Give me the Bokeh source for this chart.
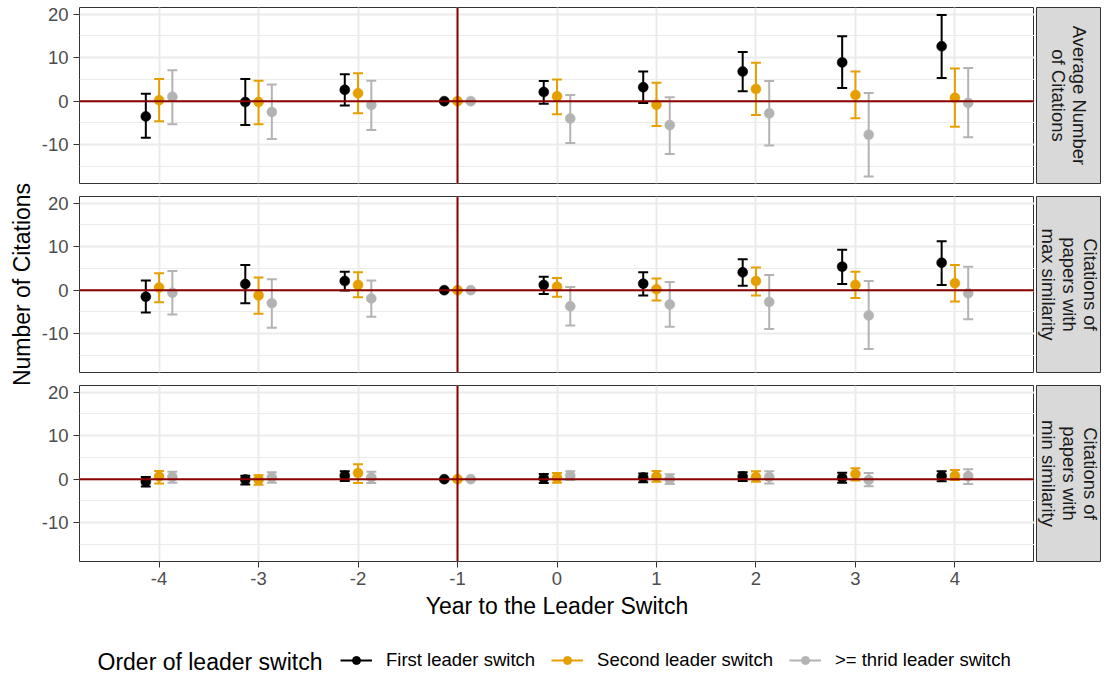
import math
from bokeh.plotting import figure
from bokeh.models import (Range1d, FixedTicker, Grid, Span, Legend, LegendItem,
                          ColumnDataSource, CustomJSTickFormatter)
from bokeh.layouts import row, column
from bokeh.core.properties import value
from bokeh.embed import file_html
from bokeh.resources import INLINE

# ---------------- data ----------------
years = [-4, -3, -2, -1, 0, 1, 2, 3, 4]
groups = ["First leader switch", "Second leader switch", ">= thrid leader switch"]
colors = ["#000000", "#E69F00", "#B3B3B3"]
panel_labels = ["Average Number\nof Citations",
                "Citations of\npapers with\nmax similarity",
                "Citations of\npapers with\nmin similarity"]
y_ticks = [-10, 0, 10, 20]
y_minor = [-15, -5, 5, 15]

# Panel 1: Average Number of Citations
avg_first_est = [-3.5, -0.2, 2.6, 0, 2.1, 3.2, 6.8, 8.9, 12.6]
avg_first_lo = [-8.4, -5.5, -1.0, 0, -0.6, -0.4, 2.3, 3.0, 5.3]
avg_first_hi = [1.7, 5.1, 6.2, 0, 4.6, 6.8, 11.3, 14.9, 19.8]
avg_second_est = [0.2, -0.2, 1.8, 0, 1.1, -0.8, 2.8, 1.4, 0.8]
avg_second_lo = [-4.6, -5.3, -2.8, 0, -3.0, -5.7, -3.2, -3.9, -5.9]
avg_second_hi = [5.1, 4.7, 6.4, 0, 5.0, 4.2, 8.8, 6.8, 7.5]
avg_third_est = [1.0, -2.5, -0.9, 0, -4.0, -5.5, -2.8, -7.7, -0.4]
avg_third_lo = [-5.3, -8.7, -6.6, 0, -9.6, -12.1, -10.2, -17.3, -8.3]
avg_third_hi = [7.1, 3.8, 4.7, 0, 1.4, 0.9, 4.6, 1.9, 7.6]

# Panel 2: Citations of papers with max similarity
max_first_est = [-1.5, 1.4, 2.1, 0, 1.2, 1.5, 4.1, 5.4, 6.3]
max_first_lo = [-5.1, -3.0, -0.1, 0, -0.9, -1.2, 1.0, 1.4, 1.2]
max_first_hi = [2.2, 5.8, 4.2, 0, 3.1, 4.1, 7.1, 9.3, 11.2]
max_second_est = [0.6, -1.2, 1.2, 0, 0.8, 0.2, 2.1, 1.2, 1.6]
max_second_lo = [-2.8, -5.4, -1.6, 0, -1.5, -2.4, -1.2, -1.8, -2.6]
max_second_hi = [3.9, 2.9, 4.1, 0, 2.8, 2.7, 5.2, 4.2, 5.8]
max_third_est = [-0.6, -3.0, -1.9, 0, -3.7, -3.3, -2.7, -5.8, -0.7]
max_third_lo = [-5.6, -8.6, -6.1, 0, -8.1, -8.4, -8.9, -13.5, -6.7]
max_third_hi = [4.4, 2.5, 2.2, 0, 0.7, 1.9, 3.5, 2.1, 5.4]

# Panel 3: Citations of papers with min similarity
min_first_est = [-0.6, -0.1, 0.8, 0, 0.2, 0.4, 0.6, 0.3, 0.7]
min_first_lo = [-1.7, -1.2, -0.4, 0, -0.9, -0.7, -0.4, -0.8, -0.5]
min_first_hi = [0.5, 0.8, 1.8, 0, 1.2, 1.3, 1.6, 1.5, 1.8]
min_second_est = [0.6, -0.1, 1.4, 0, 0.3, 0.6, 0.5, 1.2, 0.8]
min_second_lo = [-1.0, -1.3, -0.9, 0, -0.8, -0.6, -0.6, -0.3, -0.2]
min_second_hi = [1.9, 0.9, 3.4, 0, 1.4, 1.9, 1.8, 2.5, 2.1]
min_third_est = [0.5, 0.4, 0.4, 0, 0.8, 0.0, 0.5, -0.2, 0.7]
min_third_lo = [-0.8, -0.8, -0.9, 0, -0.2, -1.1, -1.0, -1.6, -1.1]
min_third_hi = [1.7, 1.6, 1.7, 0, 1.8, 1.1, 1.8, 1.4, 2.3]

panels = [
    [(avg_first_est, avg_first_lo, avg_first_hi),
     (avg_second_est, avg_second_lo, avg_second_hi),
     (avg_third_est, avg_third_lo, avg_third_hi)],
    [(max_first_est, max_first_lo, max_first_hi),
     (max_second_est, max_second_lo, max_second_hi),
     (max_third_est, max_third_lo, max_third_hi)],
    [(min_first_est, min_first_lo, min_first_hi),
     (min_second_est, min_second_lo, min_second_hi),
     (min_third_est, min_third_lo, min_third_hi)],
]

# ---------------- style / layout ----------------
FONT = "Liberation Sans"
SMALL = "18.5px"
BIG = "23px"
DODGE = 0.4
CAP = 0.05
X_LO, X_HI = -4.8, 4.8
Y_LO, Y_HI = -18.9, 21.5

LEFT_W = 38          # y-axis title column
MAIN_W = 996         # main panel figure width (40 border + 956 frame)
BORDER_L = 40
STRIP_W = 67         # 2 gap + 65 strip
TOPS = [7, 7, 7]
FRAMES = [176, 176, 176]
BOTS = [6, 6, 63]
LEG_H = 50

heights = [t + f + b for t, f, b in zip(TOPS, FRAMES, BOTS)]
total_h = sum(heights)
fmt = CustomJSTickFormatter(code="return tick.toFixed(0);")

rows = []
for k in range(3):
    last = (k == 2)
    p = figure(width=MAIN_W, height=heights[k],
               x_range=Range1d(X_LO, X_HI), y_range=Range1d(Y_LO, Y_HI),
               x_axis_location="below" if last else None, y_axis_location="left",
               output_backend="svg", toolbar_location=None,
               min_border_left=BORDER_L, min_border_right=0,
               min_border_top=TOPS[k], min_border_bottom=BOTS[k])
    p.background_fill_color = "white"
    p.border_fill_color = "white"
    p.outline_line_color = "#333333"
    p.outline_line_width = 1

    yt = FixedTicker(ticks=y_ticks, minor_ticks=y_minor)
    p.yaxis.ticker = yt
    p.yaxis.formatter = fmt
    p.yaxis.axis_line_color = None
    p.yaxis.minor_tick_line_color = None
    p.yaxis.major_tick_line_color = "#333333"
    p.yaxis.major_tick_in = 0
    p.yaxis.major_tick_out = 6
    p.yaxis.major_label_standoff = 5
    p.yaxis.major_label_text_font = FONT
    p.yaxis.major_label_text_font_size = SMALL
    p.yaxis.major_label_text_color = "#4D4D4D"
    p.ygrid.ticker = yt
    p.ygrid.grid_line_color = "#EBEBEB"
    p.ygrid.grid_line_width = 2
    p.ygrid.minor_grid_line_color = "#EBEBEB"
    p.ygrid.minor_grid_line_width = 1

    xt = FixedTicker(ticks=years, minor_ticks=[])
    if last:
        p.xaxis.ticker = xt
        p.xaxis.formatter = fmt
        p.xaxis.axis_line_color = None
        p.xaxis.minor_tick_line_color = None
        p.xaxis.major_tick_line_color = "#333333"
        p.xaxis.major_tick_in = 0
        p.xaxis.major_tick_out = 6
        p.xaxis.major_label_standoff = 4
        p.xaxis.major_label_text_font = FONT
        p.xaxis.major_label_text_font_size = SMALL
        p.xaxis.major_label_text_color = "#4D4D4D"
        p.xaxis.axis_label = "Year to the Leader Switch"
        p.xaxis.axis_label_text_font = FONT
        p.xaxis.axis_label_text_font_size = BIG
        p.xaxis.axis_label_text_font_style = "normal"
        p.xaxis.axis_label_text_color = "#000000"
        p.xaxis.axis_label_standoff = 5
        p.xgrid.ticker = xt
        p.xgrid.grid_line_color = "#EBEBEB"
        p.xgrid.grid_line_width = 2
    else:
        p.add_layout(Grid(dimension=0, ticker=xt, grid_line_color="#EBEBEB",
                          grid_line_width=2))

    srcs = []
    for gi in range(3):
        est, lo, hi = panels[k][gi]
        off = (gi - 1) * DODGE / 3
        xs = [yr + off for yr in years]
        src = ColumnDataSource(dict(x=xs, est=est, lo=lo, hi=hi,
                                    xl=[x - CAP for x in xs], xr=[x + CAP for x in xs]))
        srcs.append(src)
        col = colors[gi]
        p.segment(x0="x", y0="lo", x1="x", y1="hi", source=src, line_color=col, line_width=2)
        p.segment(x0="xl", y0="hi", x1="xr", y1="hi", source=src, line_color=col, line_width=2)
        p.segment(x0="xl", y0="lo", x1="xr", y1="lo", source=src, line_color=col, line_width=2)
    for gi in range(3):
        p.scatter(x="x", y="est", source=srcs[gi], size=10, fill_color=colors[gi],
                  line_color=colors[gi], line_width=0.5)

    p.add_layout(Span(location=0, dimension="width", line_color="#8B0000", line_width=2))
    p.add_layout(Span(location=-1, dimension="height", line_color="#8B0000", line_width=2))

    s = figure(width=STRIP_W, height=heights[k], x_range=Range1d(0, 1), y_range=Range1d(0, 1),
               x_axis_location=None, y_axis_location=None,
               output_backend="svg", toolbar_location=None,
               min_border_left=2, min_border_right=0,
               min_border_top=TOPS[k], min_border_bottom=BOTS[k])
    s.grid.visible = False
    s.background_fill_color = "#D9D9D9"
    s.border_fill_color = "white"
    s.outline_line_color = "#333333"
    s.outline_line_width = 1
    s.text(x=[0.5], y=[0.5], text=[panel_labels[k]], angle=-math.pi / 2,
           text_align="center", text_baseline="middle", text_line_height=1.0,
           text_font=value(FONT), text_font_size=SMALL, text_color="#1A1A1A")
    rows.append(row(p, s))

# y-axis title column
yl = figure(width=LEFT_W, height=total_h, x_range=Range1d(0, LEFT_W), y_range=Range1d(0, total_h),
            x_axis_location=None, y_axis_location=None, output_backend="svg",
            toolbar_location=None, min_border=0)
yl.outline_line_color = None
yl.grid.visible = False
mid_center = heights[0] + TOPS[1] + FRAMES[1] / 2
yl.text(x=[21], y=[total_h - mid_center], text=["Number of Citations"], angle=math.pi / 2,
        text_align="center", text_baseline="middle",
        text_font=value(FONT), text_font_size=BIG, text_color="#000000")

# legend row
TOTAL_W = LEFT_W + MAIN_W + STRIP_W
lg = figure(width=TOTAL_W, height=LEG_H, x_range=Range1d(0, TOTAL_W), y_range=Range1d(0, LEG_H),
            x_axis_location=None, y_axis_location=None, output_backend="svg",
            toolbar_location=None, min_border=0)
lg.outline_line_color = None
lg.grid.visible = False
items = []
for gi, g in enumerate(groups):
    lr = lg.line(x=[-100, -90], y=[-100, -100], line_color=colors[gi], line_width=2)
    sr = lg.scatter(x=[-100], y=[-100], size=9, fill_color=colors[gi], line_color=colors[gi])
    items.append(LegendItem(label=g, renderers=[lr, sr]))
leg = Legend(items=items, orientation="horizontal", location=(340, 3),
             glyph_width=32, glyph_height=20, label_standoff=14, spacing=16,
             padding=0, margin=0, border_line_color=None, background_fill_alpha=0,
             label_text_font=FONT, label_text_font_size=SMALL, label_text_color="#000000")
lg.add_layout(leg)
lg.text(x=[97], y=[13], text=["Order of leader switch"], text_align="left",
        text_baseline="middle", text_font=value(FONT), text_font_size=BIG,
        text_color="#000000")

layout = column(row(yl, column(*rows)), lg)
open("out.html", "w").write(file_html(layout, INLINE))
